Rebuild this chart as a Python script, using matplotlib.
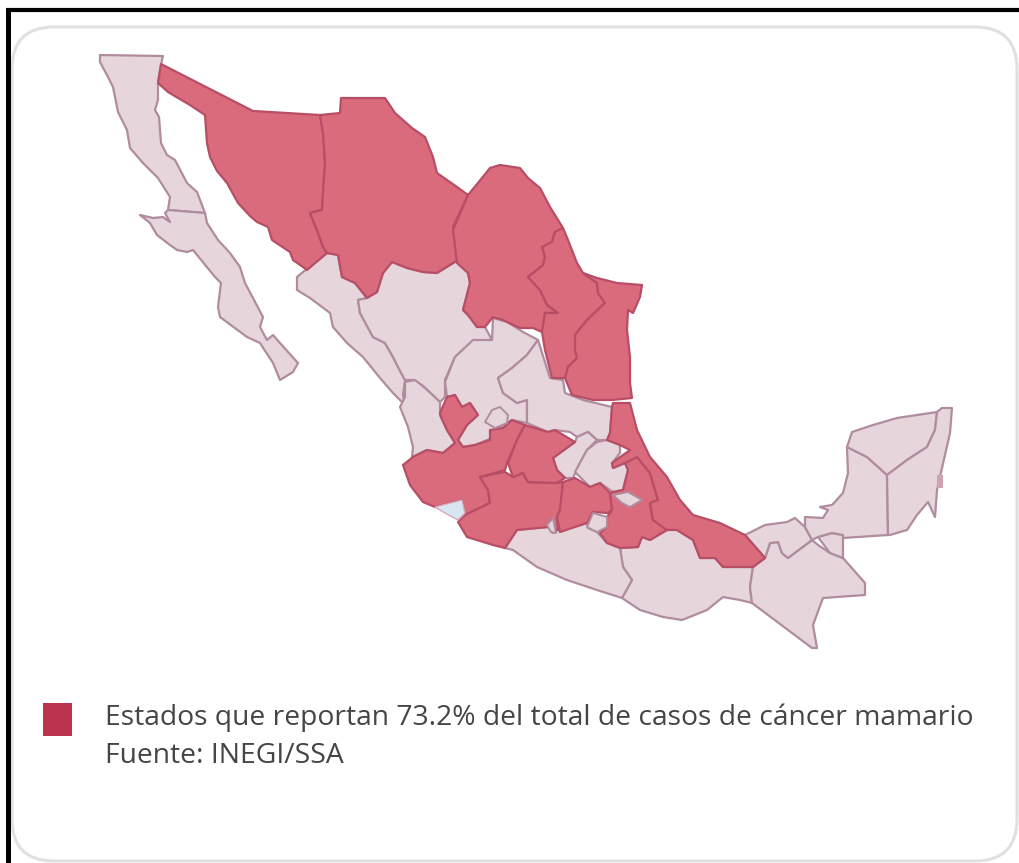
import matplotlib
matplotlib.use("Agg")
import matplotlib.pyplot as plt
from matplotlib.patches import Polygon, FancyBboxPatch, Rectangle

# Umrisse der Staaten in Bildpixeln (x, y)
baja_california = [(100,55),(163,56),(162,60),(158,83),(158,100),(155,110),(159,117),(161,143),(167,155),(175,160),(187,183),(197,192),(205,213),(168,210),(170,197),(158,178),(143,163),(130,148),(127,130),(118,112),(113,87),(108,77),(100,62)]
baja_california_sur = [(205,213),(207,223),(218,240),(230,253),(240,267),(245,283),(253,298),(263,317),(260,327),(267,340),(273,335),(280,343),(298,363),(293,372),(280,380),(273,363),(260,343),(247,337),(220,317),(218,307),(221,283),(215,277),(193,250),(187,252),(177,250),(170,245),(157,235),(150,223),(140,215),(153,218),(163,217),(170,222),(165,213),(168,210)]
sonora = [(161,64),(253,111),(320,115),(323,133),(325,163),(323,193),(322,210),(310,213),(317,230),(323,247),(327,253),(307,270),(303,267),(293,260),(290,252),(272,240),(268,227),(257,222),(250,216),(238,203),(227,183),(217,171),(210,157),(207,143),(205,115),(190,105),(178,98),(168,92),(158,83)]
chihuahua = [(320,115),(340,113),(341,98),(385,98),(395,113),(412,128),(425,137),(433,157),(437,173),(457,187),(468,195),(453,227),(458,260),(437,273),(423,272),(407,268),(392,262),(383,273),(377,292),(367,298),(355,283),(342,277),(338,255),(327,253),(323,247),(317,230),(310,213),(322,210),(323,193),(325,163),(323,133)]
coahuila = [(468,195),(482,178),(490,168),(500,165),(520,168),(528,178),(540,188),(550,207),(563,228),(555,232),(552,242),(542,247),(545,257),(543,265),(528,277),(540,290),(547,305),(558,313),(545,313),(542,332),(533,328),(520,328),(503,320),(493,317),(485,327),(477,327),(468,315),(463,310),(470,283),(468,273),(457,263),(453,230)]
nuevo_leon = [(563,228),(568,240),(577,263),(583,273),(597,283),(598,293),(605,303),(587,320),(575,335),(575,350),(577,358),(568,367),(565,378),(552,378),(545,350),(542,332),(545,313),(558,313),(547,305),(540,290),(528,277),(543,265),(545,257),(542,247),(552,242),(555,232)]
tamaulipas = [(583,273),(597,278),(617,283),(642,285),(640,297),(633,313),(628,310),(627,330),(630,357),(630,383),(632,398),(612,400),(593,400),(572,395),(565,378),(568,367),(577,358),(575,350),(575,335),(587,320),(605,303),(598,293),(597,283)]
sinaloa = [(297,277),(303,272),(327,253),(338,255),(342,277),(355,283),(367,298),(358,300),(360,313),(373,337),(385,343),(393,357),(398,367),(405,380),(403,395),(405,405),(393,393),(380,378),(363,357),(347,343),(333,327),(330,313),(310,298),(297,290)]
durango = [(367,298),(377,292),(383,273),(392,262),(407,268),(423,272),(437,273),(458,260),(468,273),(470,283),(463,310),(468,315),(477,327),(485,327),(492,340),(473,341),(455,357),(445,380),(445,397),(440,402),(422,385),(413,380),(405,380),(398,367),(393,357),(385,343),(373,337),(360,313),(358,300)]
zacatecas = [(493,318),(507,322),(523,332),(538,340),(527,355),(512,368),(498,378),(503,393),(517,403),(527,400),(527,423),(512,420),(495,430),(492,438),(475,445),(463,447),(458,440),(467,425),(478,415),(470,403),(462,407),(455,395),(447,397),(445,382),(455,357),(473,340),(492,340)]
aguascalientes = [(485,422),(492,410),(500,407),(508,415),(507,423),(495,428)]
san_luis_potosi = [(538,340),(550,378),(563,380),(565,393),(583,400),(612,407),(610,433),(607,440),(597,440),(588,432),(577,437),(570,432),(555,430),(548,432),(527,423),(527,400),(517,403),(503,393),(498,378),(512,368),(527,355)]
nayarit = [(405,382),(415,380),(425,388),(440,402),(440,415),(447,430),(455,443),(443,453),(427,450),(412,457),(413,447),(408,427),(400,407),(405,397)]
jalisco = [(403,465),(413,457),(427,450),(443,453),(455,443),(447,430),(441,417),(440,413),(447,397),(455,395),(462,407),(470,403),(478,415),(467,425),(458,440),(463,447),(475,445),(490,440),(490,430),(503,428),(512,420),(525,425),(517,440),(507,463),(505,470),(480,477),(488,490),(490,503),(465,515),(462,500),(435,507),(423,502),(410,485)]
colima = [(435,507),(462,500),(465,513),(458,520),(445,513)]
michoacan = [(480,477),(505,472),(513,477),(523,473),(528,482),(557,483),(563,482),(560,510),(557,517),(558,530),(548,527),(517,530),(505,548),(493,545),(467,537),(458,522),(465,515),(490,503),(488,490)]
guanajuato = [(525,425),(548,432),(555,430),(575,442),(553,458),(557,470),(565,478),(557,483),(528,482),(523,473),(513,477),(508,463),(517,440)]
queretaro = [(575,442),(577,437),(588,432),(597,440),(587,450),(580,463),(573,478),(565,478),(557,470),(553,458)]
hidalgo = [(597,442),(607,440),(620,445),(620,453),(612,463),(613,468),(625,463),(628,470),(623,490),(613,492),(600,483),(590,487),(575,472),(587,450)]
edo_mexico = [(563,482),(575,478),(590,487),(600,483),(610,493),(612,510),(608,513),(593,512),(587,523),(560,532),(557,517),(560,510)]
morelos = [(587,527),(593,513),(607,517),(607,527),(597,532)]
tlaxcala = [(613,495),(628,492),(642,500),(630,507),(622,503)]
puebla = [(625,463),(637,457),(650,473),(658,500),(650,503),(653,520),(667,530),(650,540),(642,537),(638,547),(620,548),(607,543),(600,533),(607,527),(607,517),(612,510),(610,493),(613,492),(623,490),(628,470)]
veracruz = [(612,407),(613,403),(630,403),(637,430),(650,457),(667,477),(680,500),(693,515),(720,523),(745,535),(765,558),(753,567),(723,567),(715,558),(700,558),(693,540),(677,530),(667,530),(653,520),(650,503),(658,500),(650,473),(637,457),(625,463),(613,468),(612,463),(630,450),(620,445),(607,440),(610,433)]
oaxaca = [(620,548),(638,547),(642,537),(650,540),(667,530),(670,525),(677,530),(693,540),(700,558),(715,558),(723,567),(753,567),(750,587),(752,603),(740,600),(723,597),(707,610),(682,620),(663,617),(640,610),(622,598),(632,580),(623,567)]
guerrero = [(505,548),(517,530),(548,527),(553,533),(558,530),(587,523),(588,528),(597,532),(607,543),(620,548),(623,567),(632,580),(622,598),(597,590),(567,580),(537,567),(513,550)]
chiapas = [(765,558),(770,543),(778,542),(782,553),(788,558),(812,540),(818,545),(830,553),(843,558),(865,583),(865,595),(823,598),(813,625),(817,648),(812,648),(752,603),(750,587),(753,567)]
tabasco = [(745,535),(765,525),(787,522),(795,518),(805,527),(812,540),(788,558),(782,553),(778,542),(770,543),(765,558)]
tabasco_este = [(818,537),(832,533),(843,535),(843,558),(830,553)]
campeche = [(805,517),(823,518),(828,510),(820,507),(832,505),(843,493),(848,473),(847,447),(867,457),(887,475),(888,535),(843,538),(843,535),(832,533),(818,537),(812,540),(805,527)]
yucatan = [(847,447),(852,432),(873,425),(897,418),(937,412),(935,430),(927,447),(907,460),(887,475),(867,457)]
quintana_roo = [(937,412),(942,408),(952,408),(950,433),(942,468),(937,490),(935,517),(928,502),(917,515),(907,530),(900,532),(890,535),(888,535),(887,475),(907,460),(927,447),(935,430)]
cozumel = [(937,475),(943,475),(943,488),(937,488)]
lengua_guerrero = [(547,525),(553,518),(556,533),(551,532)]

estados_rojos = [sonora, chihuahua, coahuila, nuevo_leon, tamaulipas, jalisco, michoacan, guanajuato, edo_mexico, puebla, veracruz]
estados_claros = [baja_california, baja_california_sur, sinaloa, durango, zacatecas, san_luis_potosi, nayarit,
                  queretaro, hidalgo, oaxaca, guerrero, chiapas, tabasco, tabasco_este, campeche, yucatan, quintana_roo]
# liegen innerhalb der roten Flaechen, daher zuletzt zeichnen
enclaves = [aguascalientes, morelos, tlaxcala, lengua_guerrero]

leyenda = "Estados que reportan 73.2% del total de casos de cáncer mamario"
fuente = "Fuente: INEGI/SSA"

plt.rcParams["font.family"] = "Open Sans"
fig = plt.figure(figsize=(10.19, 8.63), dpi=100)
ax = fig.add_axes([0, 0, 1, 1])
ax.set_xlim(0, 1019)
ax.set_ylim(863, 0)
ax.axis("off")

# Rahmen
ax.plot([8, 8], [8, 863], color="black", lw=3.6, solid_capstyle="butt")
ax.plot([6, 1019], [10.5, 10.5], color="black", lw=3, solid_capstyle="butt")
ax.add_patch(FancyBboxPatch((12, 27), 1005, 834, boxstyle="round,pad=0,rounding_size=42", fc="white", ec="#e0e0e0", lw=2.2))

for estado in estados_claros:
    ax.add_patch(Polygon(estado, closed=True, fc="#e6d6dc", ec="#b08c9e", lw=1.6, joinstyle="round"))
for estado in estados_rojos:
    ax.add_patch(Polygon(estado, closed=True, fc="#d96b7d", ec="#b84e66", lw=1.6, joinstyle="round"))
for estado in enclaves:
    ax.add_patch(Polygon(estado, closed=True, fc="#e6d6dc", ec="#b08c9e", lw=1.4, joinstyle="round"))
ax.add_patch(Polygon(colima, closed=True, fc="#d8e6f2", ec="#d8a8b8", lw=1))
ax.add_patch(Polygon(cozumel, closed=True, fc="#cfa3b0", ec="none"))

ax.add_patch(Rectangle((43, 703), 29, 33, fc="#bc3350", ec="none"))
ax.text(105, 725, leyenda, fontsize=20.3, color="#454545", va="baseline")
ax.text(105, 763, fuente, fontsize=20.3, color="#454545", va="baseline")

plt.savefig("out.png", dpi=100)
